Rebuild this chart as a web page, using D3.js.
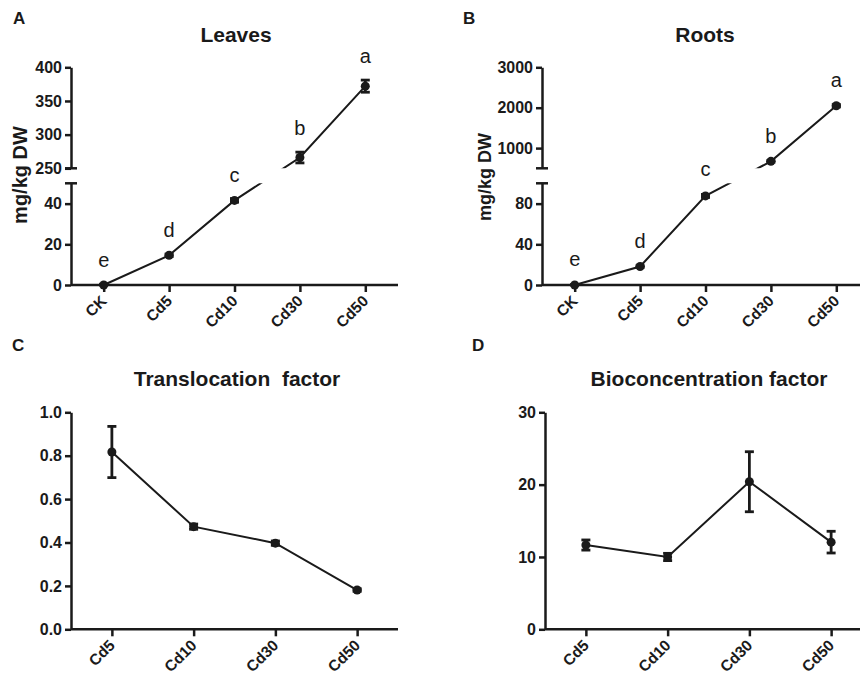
<!DOCTYPE html>
<html><head><meta charset="utf-8">
<script src="https://cdn.jsdelivr.net/npm/d3@7"></script>
<style>
html,body{margin:0;padding:0;background:#fff;}
svg{display:block;}
text{font-family:"Liberation Sans",Arial,Helvetica,sans-serif;fill:#1a1a1a;}
</style></head>
<body>
<svg id="chart" width="860" height="676"></svg>
<script>
// ---- data ----
const catsAB = ["CK","Cd5","Cd10","Cd30","Cd50"];
const leavesMean = [0, 14.6, 41.6, 266, 372];
const leavesErr  = [0.4, 0.6, 0.9, 8, 9];
const leavesLetters = ["e","d","c","b","a"];
const rootsMean = [0, 18.2, 87.6, 672, 2048];
const rootsErr  = [0.5, 0.8, 1.5, 20, 30];
const rootsLetters = ["e","d","c","b","a"];
const catsCD = ["Cd5","Cd10","Cd30","Cd50"];
const tfMean = [0.817, 0.473, 0.397, 0.181];
const tfErr  = [0.118, 0.012, 0.01, 0.006];
const bcfMean = [11.65, 10.0, 20.4, 12.05];
const bcfErr  = [0.7, 0.5, 4.15, 1.5];
const leavesLowTicks = [0,20,40], leavesHighTicks = [250,300,350,400];
const rootsLowTicks = [0,40,80], rootsHighTicks = [1000,2000,3000];
const tfTicks = [0,0.2,0.4,0.6,0.8,1.0];
const bcfTicks = [0,10,20,30];

const INK = "#1a1a1a";
const svg = d3.select("#chart");

function panelLetter(t, x, y){
  svg.append("text").attr("x",x).attr("y",y).attr("font-size",17).attr("font-weight","bold").text(t);
}
function title(t, x, y){
  svg.append("text").attr("x",x).attr("y",y).attr("text-anchor","middle")
    .attr("font-size",21).attr("font-weight","bold").style("white-space","pre").text(t);
}
function styleAxis(g){
  g.selectAll("path.domain").attr("stroke",INK).attr("stroke-width",2.5);
  g.selectAll(".tick line").attr("stroke",INK).attr("stroke-width",2.5);
  g.selectAll(".tick text").attr("font-size",16).attr("font-weight","bold").attr("fill",INK)
    .style("font-family","'Liberation Sans',Arial,sans-serif");
}
function xAxis(x, axisY){
  const g = svg.append("g").attr("transform",`translate(0,${axisY})`)
    .call(d3.axisBottom(x).tickSize(7).tickSizeOuter(0).tickFormat(""));
  styleAxis(g);
  g.selectAll("path.domain").attr("d", `M${x.range()[0]},0H${x.range()[1]}`);
  x.domain().forEach(c=>{
    svg.append("text")
      .attr("transform",`translate(${x(c)+4},${axisY+17}) rotate(-45)`)
      .attr("text-anchor","end").attr("font-size",15.5).attr("font-weight","bold").text(c);
  });
}
function drawSeries(g, x, yf, cats, mean, err, clip){
  const pts = cats.map((c,i)=>[x(c), yf(mean[i])]);
  const line = d3.line();
  if(clip){
    clip.forEach(cid=>{
      g.append("path").attr("d",line(pts)).attr("fill","none").attr("stroke",INK)
        .attr("stroke-width",2).attr("clip-path",`url(#${cid})`);
    });
  } else {
    g.append("path").attr("d",line(pts)).attr("fill","none").attr("stroke",INK).attr("stroke-width",2);
  }
  cats.forEach((c,i)=>{
    const cx = x(c), y1 = yf(mean[i]+err[i]), y2 = yf(mean[i]-err[i] < 0 ? 0 : mean[i]-err[i]);
    g.append("line").attr("x1",cx).attr("x2",cx).attr("y1",y1).attr("y2",y2).attr("stroke",INK).attr("stroke-width",2.8);
    [y1,y2].forEach(yy=>g.append("line").attr("x1",cx-4.5).attr("x2",cx+4.5).attr("y1",yy).attr("y2",yy)
      .attr("stroke",INK).attr("stroke-width",2.8));
    g.append("circle").attr("cx",cx).attr("cy",yf(mean[i])).attr("r",4.5).attr("fill",INK);
  });
}

const defs = svg.append("defs");
function clipRect(id, y0, y1){
  defs.append("clipPath").attr("id",id).append("rect").attr("x",0).attr("y",y0).attr("width",860).attr("height",y1-y0);
}
const Y_BASE = 285, Y_LOWTOP = 183.3, Y_UPBOT = 168.3, Y_TOP = 67.3;
clipRect("clipLow", Y_LOWTOP, 700);
clipRect("clipUp", 0, Y_UPBOT);

function brokenPanel(axisX, xEnd, lowMax, upMin, upMax, lowTicks, highTicks, cats, mean, err, letters, letterOff, fmt){
  const x = d3.scalePoint().domain(cats).range([axisX, xEnd]).padding(0.5);
  const yLow = d3.scaleLinear().domain([0, lowMax]).range([Y_BASE, Y_LOWTOP]);
  const yUp = d3.scaleLinear().domain([upMin, upMax]).range([Y_UPBOT, Y_TOP]);
  const yf = v => v <= lowMax ? yLow(v) : yUp(v);
  const gl = svg.append("g").attr("transform",`translate(${axisX},0)`)
    .call(d3.axisLeft(yLow).tickValues(lowTicks).tickSize(6).tickPadding(3).tickSizeOuter(0).tickFormat(fmt));
  styleAxis(gl);
  const gu = svg.append("g").attr("transform",`translate(${axisX},0)`)
    .call(d3.axisLeft(yUp).tickValues(highTicks).tickSize(6).tickPadding(3).tickSizeOuter(0).tickFormat(fmt));
  styleAxis(gu);
  [Y_UPBOT, Y_LOWTOP].forEach(yy=>svg.append("line").attr("x1",axisX-6).attr("x2",axisX+6)
    .attr("y1",yy).attr("y2",yy).attr("stroke",INK).attr("stroke-width",2.5));
  xAxis(x, Y_BASE);
  const g = svg.append("g");
  drawSeries(g, x, yf, cats, mean, err, ["clipLow","clipUp"]);
  cats.forEach((c,i)=>{
    svg.append("text").attr("x",x(c)).attr("y",yf(mean[i]+err[i])-letterOff)
      .attr("text-anchor","middle").attr("font-size",20).text(letters[i]);
  });
  return x;
}

function simplePanel(axisX, xEnd, yMax, ticks, cats, mean, err, fmt){
  const x = d3.scalePoint().domain(cats).range([axisX, xEnd]).padding(0.5);
  const y = d3.scaleLinear().domain([0, yMax]).range([629.3, 412.3]);
  const gy = svg.append("g").attr("transform",`translate(${axisX},0)`)
    .call(d3.axisLeft(y).tickValues(ticks).tickSize(6).tickPadding(3).tickSizeOuter(0).tickFormat(fmt));
  styleAxis(gy);
  xAxis(x, 629.3);
  drawSeries(svg.append("g"), x, y, cats, mean, err, null);
}

// Panel A
panelLetter("A", 13, 23.5);
title("Leaves", 236, 42);
brokenPanel(71, 398, 50, 250, 400, leavesLowTicks, leavesHighTicks, catsAB, leavesMean, leavesErr, leavesLetters, 17, d3.format("d"));
svg.append("text").attr("transform","translate(27,175) rotate(-90)").attr("text-anchor","middle")
  .attr("font-size",20).attr("font-weight","bold").text("mg/kg DW");

// Panel B
panelLetter("B", 463, 23.5);
title("Roots", 705, 42);
brokenPanel(542, 869, 100, 500, 3000, rootsLowTicks, rootsHighTicks, catsAB, rootsMean, rootsErr, rootsLetters, 18, d3.format("d"));
svg.append("text").attr("transform","translate(491,177) rotate(-90)").attr("text-anchor","middle")
  .attr("font-size",18).attr("font-weight","bold").text("mg/kg DW");

// Panel C
panelLetter("C", 12, 350.5);
title("Translocation  factor", 237, 386);
simplePanel(71, 398, 1.0, tfTicks, catsCD, tfMean, tfErr, d3.format(".1f"));

// Panel D
panelLetter("D", 472, 350.5);
title("Bioconcentration factor", 709, 386);
simplePanel(545, 872, 30, bcfTicks, catsCD, bcfMean, bcfErr, d3.format("d"));
</script>
</body></html>
